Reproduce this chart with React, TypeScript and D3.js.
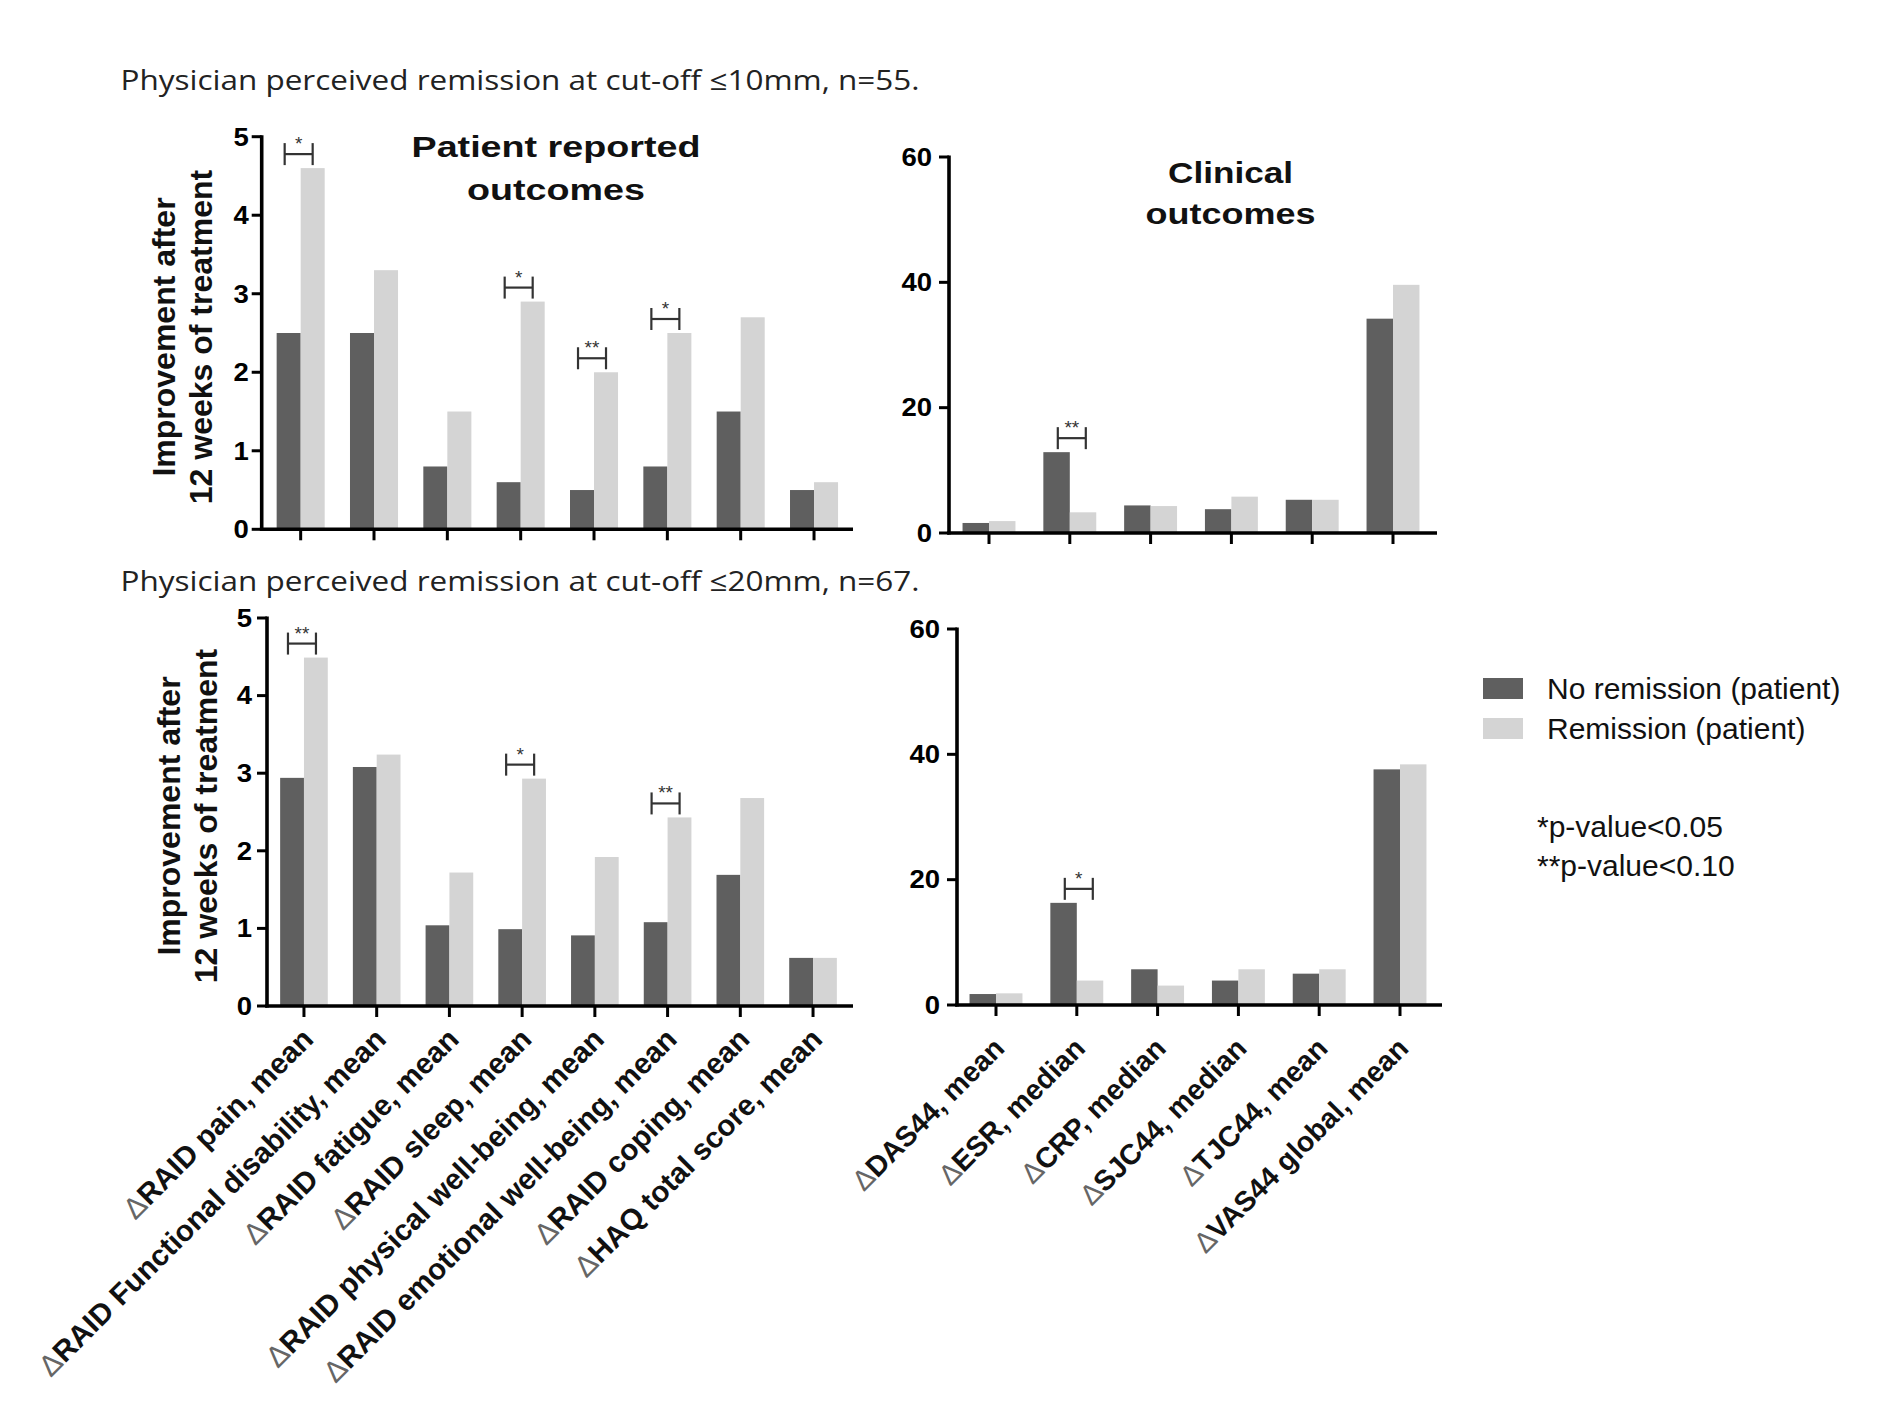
import React from "react";
import * as d3 from "d3";

// ---------- data ----------
const PRO_CATEGORIES = [
  "RAID pain, mean",
  "RAID Functional disability, mean",
  "RAID fatigue, mean",
  "RAID sleep, mean",
  "RAID physical well-being, mean",
  "RAID emotional well-being, mean",
  "RAID coping, mean",
  "HAQ total score, mean",
];
const CLIN_CATEGORIES = [
  "DAS44, mean",
  "ESR, median",
  "CRP, median",
  "SJC44, median",
  "TJC44, mean",
  "VAS44 global, mean",
];

const TOP_PRO_NO = [2.5, 2.5, 0.8, 0.6, 0.5, 0.8, 1.5, 0.5];
const TOP_PRO_REM = [4.6, 3.3, 1.5, 2.9, 2.0, 2.5, 2.7, 0.6];
const TOP_PRO_SIG = ["*", "", "", "*", "**", "*", "", ""];

const TOP_CLIN_NO = [1.6, 12.9, 4.4, 3.8, 5.3, 34.2];
const TOP_CLIN_REM = [1.9, 3.3, 4.3, 5.8, 5.3, 39.6];
const TOP_CLIN_SIG = ["", "**", "", "", "", ""];

const BOT_PRO_NO = [2.94, 3.08, 1.04, 0.99, 0.91, 1.08, 1.69, 0.62];
const BOT_PRO_REM = [4.49, 3.24, 1.72, 2.93, 1.92, 2.43, 2.68, 0.62];
const BOT_PRO_SIG = ["**", "", "", "*", "", "**", "", ""];

const BOT_CLIN_NO = [1.75, 16.3, 5.7, 3.9, 5.0, 37.6];
const BOT_CLIN_REM = [1.86, 3.9, 3.1, 5.7, 5.7, 38.4];
const BOT_CLIN_SIG = ["", "*", "", "", "", ""];

const PRO_TICKS = [0, 1, 2, 3, 4, 5];
const CLIN_TICKS = [0, 20, 40, 60];

const HEADINGS = [
  "Physician perceived remission at cut-off \u226410mm, n=55.",
  "Physician perceived remission at cut-off \u226420mm, n=67.",
];
const SERIES_NAMES = ["No remission (patient)", "Remission (patient)"];
const P_NOTES = ["*p-value<0.05", "**p-value<0.10"];

// ---------- styles ----------
const DARK = "#5f5f5f";
const LIGHT = "#d4d4d4";
const ARIAL = "'Liberation Sans', Arial, sans-serif";

type Panel = {
  cats: string[];
  no: number[];
  rem: number[];
  sig: string[];
  max: number;
  ticks: number[];
  axisX: number;
  y0: number;
  yTop: number;
  band: [number, number];
  axisEnd: number;
  tickGap: number;
  showLabels: boolean;
  labelDx: number;
  labelDy: number;
  labelSize: number;
  sigDx: number;
};

const PANELS: Panel[] = [
  {
    cats: PRO_CATEGORIES, no: TOP_PRO_NO, rem: TOP_PRO_REM, sig: TOP_PRO_SIG,
    max: 5, ticks: PRO_TICKS, axisX: 261.7, y0: 529.3, yTop: 136.7,
    band: [264, 850.7], axisEnd: 853, tickGap: 13, showLabels: false,
    labelDx: 11, labelDy: 35, labelSize: 29.5, sigDx: -2,
  },
  {
    cats: CLIN_CATEGORIES, no: TOP_CLIN_NO, rem: TOP_CLIN_REM, sig: TOP_CLIN_SIG,
    max: 60, ticks: CLIN_TICKS, axisX: 949, y0: 533, yTop: 157,
    band: [948.6, 1433.4], axisEnd: 1437, tickGap: 17, showLabels: false,
    labelDx: 10, labelDy: 45, labelSize: 28.5, sigDx: 2,
  },
  {
    cats: PRO_CATEGORIES, no: BOT_PRO_NO, rem: BOT_PRO_REM, sig: BOT_PRO_SIG,
    max: 5, ticks: PRO_TICKS, axisX: 267, y0: 1006, yTop: 618,
    band: [267.6, 849.4], axisEnd: 853, tickGap: 15, showLabels: true,
    labelDx: 11, labelDy: 35, labelSize: 29.5, sigDx: -2,
  },
  {
    cats: CLIN_CATEGORIES, no: BOT_CLIN_NO, rem: BOT_CLIN_REM, sig: BOT_CLIN_SIG,
    max: 60, ticks: CLIN_TICKS, axisX: 957, y0: 1005, yTop: 629,
    band: [955.6, 1440.4], axisEnd: 1442, tickGap: 17, showLabels: true,
    labelDx: 10, labelDy: 45, labelSize: 28.5, sigDx: 2,
  },
];

function ChartPanel({ p, yLabel }: { p: Panel; yLabel: boolean }) {
  const x = d3
    .scaleBand<string>()
    .domain(p.cats)
    .range(p.band)
    .paddingInner(0.345)
    .paddingOuter(0.1725);
  const y = d3.scaleLinear().domain([0, p.max]).range([p.y0, p.yTop]);
  const bw = x.bandwidth() / 2;
  const midY = (p.y0 + p.yTop) / 2 + 4;
  return (
    <g>
      {/* bars */}
      {p.cats.map((c, i) => (
        <g key={c}>
          <rect x={x(c)!} y={y(p.no[i])} width={bw} height={p.y0 - y(p.no[i])} fill={DARK} />
          <rect x={x(c)! + bw} y={y(p.rem[i])} width={bw} height={p.y0 - y(p.rem[i])} fill={LIGHT} />
        </g>
      ))}
      {/* significance brackets */}
      {p.cats.map((c, i) => {
        if (!p.sig[i]) return null;
        const cx = x(c)! + x.bandwidth() / 2 + p.sigDx;
        const hy = y(Math.max(p.no[i], p.rem[i])) - 14;
        return (
          <g key={"s" + c} stroke="#333" strokeWidth={2.2}>
            <line x1={cx - 14} x2={cx + 14} y1={hy} y2={hy} />
            <line x1={cx - 14} x2={cx - 14} y1={hy - 11} y2={hy + 11} />
            <line x1={cx + 14} x2={cx + 14} y1={hy - 11} y2={hy + 11} />
            <text x={cx} y={hy - 4} textAnchor="middle" fontSize={19} fontFamily={ARIAL} fill="#333" stroke="none">
              {p.sig[i]}
            </text>
          </g>
        );
      })}
      {/* y axis */}
      <line x1={p.axisX} x2={p.axisX} y1={y(p.max) - 1.5} y2={p.y0 + 1.5} stroke="#000" strokeWidth={3.6} />
      {p.ticks.map((t) => (
        <g key={"y" + t}>
          <line x1={p.axisX - 10} x2={p.axisX} y1={y(t)} y2={y(t)} stroke="#000" strokeWidth={3} />
          <text
            transform={`translate(${p.axisX - p.tickGap},${y(t) + 8.8}) scale(1.1,1)`}
            textAnchor="end"
            fontSize={25}
            fontWeight="bold"
            fontFamily={ARIAL}
            fill="#000"
          >
            {t}
          </text>
        </g>
      ))}
      {/* x axis */}
      <line x1={p.axisX - 1.8} x2={p.axisEnd} y1={p.y0} y2={p.y0} stroke="#000" strokeWidth={3.6} />
      {p.cats.map((c) => (
        <line
          key={"xt" + c}
          x1={x(c)! + x.bandwidth() / 2}
          x2={x(c)! + x.bandwidth() / 2}
          y1={p.y0}
          y2={p.y0 + 11}
          stroke="#000"
          strokeWidth={3}
        />
      ))}
      {p.showLabels &&
        p.cats.map((c) => (
          <text
            key={"xl" + c}
            transform={`translate(${x(c)! + x.bandwidth() / 2 + p.labelDx},${p.y0 + p.labelDy}) rotate(-45)`}
            textAnchor="end"
            fontSize={p.labelSize}
            fontWeight="bold"
            fontFamily={ARIAL}
            fill="#111"
          >
            <tspan fontWeight="normal" fill="#666">{"\u0394"}</tspan>
            {c}
          </text>
        ))}
      {yLabel && (
        <g fontFamily={ARIAL} fontWeight="bold" fontSize={32} fill="#111" textAnchor="middle">
          <text transform={`translate(${p.axisX - 87},${midY}) rotate(-90)`}>Improvement after</text>
          <text transform={`translate(${p.axisX - 50},${midY}) rotate(-90)`}>12 weeks of treatment</text>
        </g>
      )}
    </g>
  );
}

export default function App() {
  return (
    <svg
      width={1889}
      height={1417}
      viewBox="0 0 1889 1417"
      style={{ position: "absolute", left: 0, top: 0, background: "#fff" }}
    >
      <rect x={0} y={0} width={1889} height={1417} fill="#fff" />
      {/* headings */}
      <text x={120.5} y={90} fontFamily="'Open Sans', sans-serif" fontSize={27} fill="#222" textLength={799} lengthAdjust="spacingAndGlyphs">
        {HEADINGS[0]}
      </text>
      <text x={120.5} y={591} fontFamily="'Open Sans', sans-serif" fontSize={27} fill="#222" textLength={799} lengthAdjust="spacingAndGlyphs">
        {HEADINGS[1]}
      </text>

      {/* chart titles */}
      <g fontFamily={ARIAL} fontWeight="bold" fontSize={30} fill="#111" textAnchor="middle">
        <text x={556} y={157} textLength={289} lengthAdjust="spacingAndGlyphs">Patient reported</text>
        <text x={556} y={200} textLength={178} lengthAdjust="spacingAndGlyphs">outcomes</text>
        <text x={1230.5} y={183} textLength={125} lengthAdjust="spacingAndGlyphs">Clinical</text>
        <text x={1230.5} y={224} textLength={170} lengthAdjust="spacingAndGlyphs">outcomes</text>
      </g>

      {PANELS.map((p, i) => (
        <ChartPanel key={i} p={p} yLabel={i % 2 === 0} />
      ))}

      {/* legend */}
      <rect x={1483} y={678} width={40} height={21} fill={DARK} />
      <rect x={1483} y={718} width={40} height={21} fill={LIGHT} />
      <g fontFamily={ARIAL} fontSize={30} fill="#111">
        <text x={1547} y={699}>{SERIES_NAMES[0]}</text>
        <text x={1547} y={739}>{SERIES_NAMES[1]}</text>
        <text x={1537} y={837}>{P_NOTES[0]}</text>
        <text x={1537} y={876}>{P_NOTES[1]}</text>
      </g>
    </svg>
  );
}
